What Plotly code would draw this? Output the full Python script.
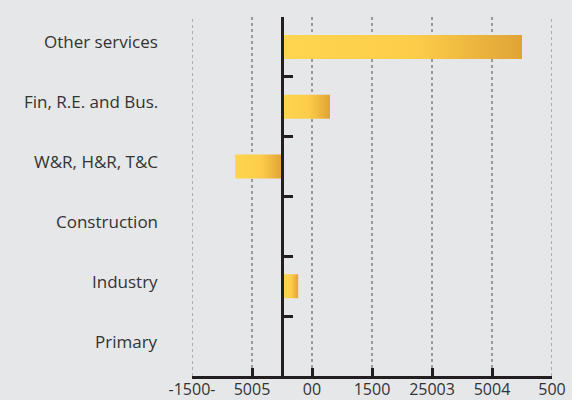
import plotly.graph_objects as go

# categories top to bottom and their values
categories = ["Other services", "Fin, R.E. and Bus.", "W&R, H&R, T&C",
              "Construction", "Industry", "Primary"]
values = [4000, 800, -780, 0, 270, 0]

# x tick positions and the labels as they appear on the chart
x_tickvals = [-1500, -500, 500, 1500, 2500, 3500, 4500]
x_ticktext = ["-1500-", "5005", "00", "1500", "25003", "5004", "500"]

FONT = "Open Sans"
INK = "#231f20"
GRID = "#9a9a9a"
BAR_HALF = 0.2

fig = go.Figure()

# bars drawn as filled shapes so they can carry a horizontal gradient
for i, (cat, v) in enumerate(zip(categories, values)):
    if v == 0:
        continue
    fig.add_trace(go.Scatter(
        x=[0, v, v, 0, 0],
        y=[i - BAR_HALF, i - BAR_HALF, i + BAR_HALF, i + BAR_HALF, i - BAR_HALF],
        mode="lines", line=dict(width=0),
        fill="toself",
        fillgradient=dict(type="horizontal",
                          colorscale=[[0, "#ffd54f"], [0.55, "#fdcd4a"], [1, "#e0a436"]]),
        name=cat, hoverinfo="name", showlegend=False,
    ))

# category labels on the left
for i, cat in enumerate(categories):
    fig.add_annotation(x=0, xref="paper", xanchor="right", xshift=-32,
                       y=i, yref="y", yshift=5, text=cat, showarrow=False,
                       font=dict(family=FONT, size=17, color="#333333"))

# plotly leaves out gridlines on the range edges, so add those two by hand
for xv in (x_tickvals[0], x_tickvals[-1]):
    fig.add_shape(type="line", xref="x", yref="paper", x0=xv, x1=xv, y0=0, y1=1,
                  line=dict(color=GRID, width=1.5, dash="dot"), layer="below")

fig.update_layout(
    width=572, height=400,
    margin=dict(l=192, r=20, t=17, b=24),
    paper_bgcolor="#e6e7e8", plot_bgcolor="#e6e7e8",
    font=dict(family=FONT, size=17, color="#333333"),
    xaxis=dict(
        range=[-1500, 4500], tickvals=x_tickvals, ticktext=x_ticktext,
        showgrid=True, gridcolor=GRID, gridwidth=1.5, griddash="dot",
        zeroline=False, showline=True, linecolor=INK, linewidth=3,
        ticks="inside", ticklen=8, tickwidth=3, tickcolor=INK,
        tickfont=dict(family=FONT, size=16, color="#333333"),
        ticklabelstandoff=-3,
        automargin=False,
    ),
    yaxis=dict(
        range=[len(categories) - 0.5, -0.5],
        anchor="free", position=0.25,
        tickvals=[k - 0.5 for k in range(len(categories) + 1)],
        showticklabels=False, showgrid=False, zeroline=False,
        showline=True, linecolor=INK, linewidth=3,
        ticks="inside", ticklen=9, tickwidth=3, tickcolor=INK,
        automargin=False,
    ),
)

# drop the browser's default body margin so the figure fills the window
fig.write_html("out.html", config={"displayModeBar": False},
               post_script="document.body.style.margin = '0';")
